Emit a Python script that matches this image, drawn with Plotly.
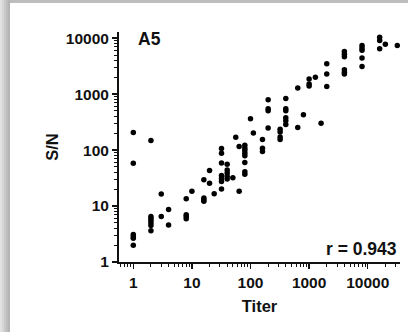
import plotly.graph_objects as go

# titer groups and S/N values
titer_1 = [207, 58, 3.1, 2.85, 2.65, 2.0]
titer_2 = [148, 6.5, 6.0, 5.5, 5.0, 4.5, 3.6]
titer_3 = [16.4, 6.5]
titer_4 = [8.7, 4.6]
titer_8 = [13.5, 7.0, 6.5, 5.9]
titer_10 = [18.3]
titer_16 = [29.5, 13.9, 13.0, 12.2]
titer_20 = [43, 25.5]
titer_24 = [16.5]
titer_32 = [107, 88, 58.6, 35, 31, 27.5, 20.1]
titer_40 = [56, 44, 38.8, 34, 30.5]
titer_50 = [32]
titer_56 = [170]
titer_64 = [116, 18.3]
titer_80 = [122, 108, 98, 88, 79, 60, 41, 37]
titer_100 = [363]
titer_112 = [201]
titer_160 = [154, 108, 94]
titer_200 = [794, 547, 504, 247]
titer_320 = [235, 210, 172, 155]
titer_400 = [837, 547, 504, 378, 334, 287]
titer_640 = [1290, 254]
titer_800 = [430]
titer_1000 = [1860, 1510, 1400]
titer_1280 = [2000]
titer_1600 = [302]
titer_2000 = [3480, 2280, 1370]
titer_4000 = [5780, 5170, 4640, 2720, 2470, 2280]
titer_8000 = [7400, 6700, 6100, 4400, 3120]
titer_16000 = [10400, 9100, 6450]
titer_20000 = [7800]
titer_32000 = [7400]

groups = {
    1: titer_1, 2: titer_2, 3: titer_3, 4: titer_4, 8: titer_8, 10: titer_10,
    16: titer_16, 20: titer_20, 24: titer_24, 32: titer_32, 40: titer_40,
    50: titer_50, 56: titer_56, 64: titer_64, 80: titer_80, 100: titer_100,
    112: titer_112, 160: titer_160, 200: titer_200, 320: titer_320,
    400: titer_400, 640: titer_640, 800: titer_800, 1000: titer_1000,
    1280: titer_1280, 1600: titer_1600, 2000: titer_2000, 4000: titer_4000,
    8000: titer_8000, 16000: titer_16000, 20000: titer_20000, 32000: titer_32000,
}

tick_vals = [1, 10, 100, 1000, 10000]
tick_text = ["1", "10", "100", "1000", "10000"]
panel_label = "A5"
r_label = "r = 0.943"

xs, ys = [], []
for t, vals in groups.items():
    for v in vals:
        xs.append(t)
        ys.append(v)

FONT = "Liberation Sans"
fig = go.Figure()
fig.add_trace(go.Scatter(
    x=xs, y=ys, mode="markers",
    marker=dict(color="#000000", size=5.5, line=dict(width=0)),
    showlegend=False, hoverinfo="skip",
))

axis_common = dict(
    type="log", showgrid=False, zeroline=False, showline=True,
    linecolor="#111111", linewidth=2, mirror=False,
    ticks="outside", ticklen=5, tickwidth=1.5, tickcolor="#111111",
    tickmode="array", tickvals=tick_vals, ticktext=tick_text,
    tickfont=dict(family=FONT, size=15.5, color="#111111", weight="bold"),
    minor=dict(ticks="outside", ticklen=3, tickwidth=1, tickcolor="#111111", dtick="D1"),
)

fig.update_xaxes(
    **axis_common, range=[-0.244, 4.551],
    title=dict(text="<b>Titer</b>", font=dict(family=FONT, size=16.5, color="#111111"), standoff=11),
)
fig.update_yaxes(
    **axis_common, range=[0, 4.11],
    title=dict(text="<b>S/N</b>", font=dict(family=FONT, size=16.5, color="#111111"), standoff=3),
)

W, H = 408, 332
L, R, T, B = 119, 8, 32, 70
pw, ph = W - L - R, H - T - B

def px(xp):
    return (xp - L) / pw

def py(yp):
    return (H - B - yp) / ph

shapes = []
band_cols = ["#e2e2e2", "#d6d6d6", "#cacaca", "#bebebe", "#b4b4b4"]
for i, c in enumerate(band_cols):
    shapes.append(dict(type="rect", xref="paper", yref="paper",
                       x0=px(2 * i), x1=px(2 * i + 2), y0=py(H), y1=py(0),
                       fillcolor=c, line=dict(width=0), layer="below"))
shapes.append(dict(type="rect", xref="paper", yref="paper",
                   x0=px(10), x1=px(W), y0=py(3), y1=py(0),
                   fillcolor="#bdbdbd", line=dict(width=0), layer="below"))

fig.update_layout(
    width=W, height=H,
    margin=dict(l=L, r=R, t=T, b=B),
    paper_bgcolor="#ffffff", plot_bgcolor="rgba(0,0,0,0)",
    shapes=shapes,
    annotations=[
        dict(text="<b>" + panel_label + "</b>", xref="paper", yref="paper",
             x=px(136), y=py(38.7), xanchor="left", yanchor="middle", showarrow=False,
             font=dict(family=FONT, size=17.5, color="#111111")),
        dict(text="<b>" + r_label + "</b>", xref="paper", yref="paper",
             x=px(399), y=py(249.3), xanchor="right", yanchor="middle", showarrow=False,
             font=dict(family=FONT, size=17.5, color="#111111")),
    ],
)

fig.write_html(
    "out.html",
    config={"displayModeBar": False, "staticPlot": True},
    post_script="document.body.style.margin='0';document.body.style.overflow='hidden';",
)
